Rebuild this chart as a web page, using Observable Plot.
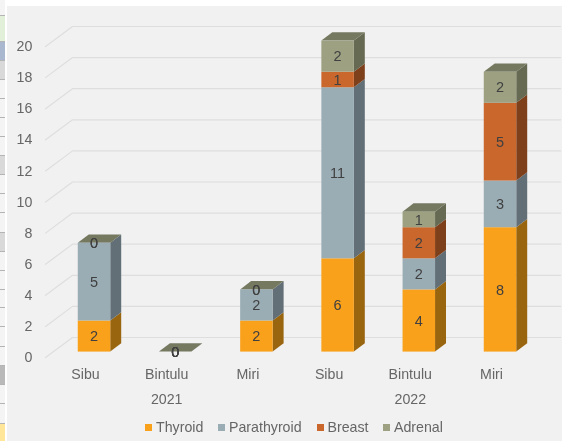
<!DOCTYPE html>
<html>
<head>
<meta charset="utf-8">
<script src="https://cdn.jsdelivr.net/npm/d3@7"></script>
<script src="https://cdn.jsdelivr.net/npm/@observablehq/plot@0.6"></script>
<style>
  html, body { margin: 0; padding: 0; background: #fff; overflow: hidden; }
  body { width: 562px; height: 441px; position: relative; font-family: "Liberation Sans", Arial, sans-serif; }
  #strip { position: absolute; left: 0; top: 0; width: 5px; height: 441px; background: #f4f4f4; overflow: hidden; }
  #strip div { position: absolute; left: 0; width: 5px; box-sizing: border-box; border-top: 1px solid #b4b4b4; }
  #panel { position: absolute; left: 7px; top: 6px; width: 555px; height: 435px; background: #f1f1f1; }
  #chart { position: absolute; left: 0; top: 0; filter: blur(0.35px); }
  #chart svg { background: transparent; overflow: visible; }
  #legend { position: absolute; left: 0; top: 418px; width: 562px; height: 18px; font-size: 14.2px; line-height: 18px; color: #666; filter: blur(0.35px); }
  #legend span { position: absolute; top: 0; white-space: nowrap; }
  #legend i { position: absolute; top: 5.5px; width: 7px; height: 7px; }
</style>
</head>
<body>
<div id="strip"></div>
<div id="panel"></div>
<div id="chart"></div>
<div id="legend"></div>
<script>
const cities = ["Sibu", "Bintulu", "Miri", "Sibu", "Bintulu", "Miri"];
const years = ["2021", "2022"];
const seriesNames = ["Thyroid", "Parathyroid", "Breast", "Adrenal"];
const thyroid = [2, 0, 2, 6, 4, 8];
const parathyroid = [5, 0, 2, 11, 2, 3];
const breast = [0, 0, 0, 1, 2, 5];
const adrenal = [0, 0, 0, 2, 1, 2];
const yearCentres = [1, 4];
const yTicks = [0, 2, 4, 6, 8, 10, 12, 14, 16, 18, 20];
const frontColors = ["#f9a11b", "#9aadb5", "#c9672d", "#9da182"];
const sideColors = ["#99650f", "#626f76", "#7e3f1b", "#676a52"];
const topColor = "#757960";
const gridColor = "#dedede";
const textColor = "#666666";
const labelColor = "#404040";

// Spreadsheet cells peeking out at the left of the screenshot
const stripCells = [[15,26,"#e2efd9"],[41,19,"#a9b8cf"],[60,19,"#d9d9d9"],[79,19,"#f4f4f4"],[98,19,"#f4f4f4"],[117,19,"#f4f4f4"],[136,19,"#f4f4f4"],[155,19,"#d9d9d9"],[174,19,"#f4f4f4"],[193,19,"#f4f4f4"],[212,20,"#f4f4f4"],[232,19,"#d9d9d9"],[251,19,"#f4f4f4"],[270,19,"#f4f4f4"],[289,18,"#f4f4f4"],[307,19,"#f4f4f4"],[326,20,"#f4f4f4"],[346,19,"#f4f4f4"],[365,19,"#b9b9b9"],[384,19,"#f4f4f4"],[403,20,"#f4f4f4"],[423,18,"#ffe699"]];
const strip = document.getElementById("strip");
for (const [t, h, c] of stripCells) {
  const d = document.createElement("div");
  d.style.top = t + "px"; d.style.height = h + "px"; d.style.background = c;
  strip.appendChild(d);
}

const seriesValues = [thyroid, parathyroid, breast, adrenal];
const barHalf = 0.2, depthX = 0.135, depthY = 0.534;

// stacked segments
const segments = [];
cities.forEach((city, i) => {
  let base = 0;
  seriesValues.forEach((vals, s) => {
    segments.push({i, s, value: vals[i], y0: base, y1: base + vals[i]});
    base += vals[i];
  });
});

// side faces: two-point areas
const sideMarks = seriesNames.map((_, s) => {
  const pts = segments.filter(d => d.s === s && d.value > 0).flatMap(d => [
    {key: d.i, x: d.i + barHalf, y1: d.y0, y2: d.y1},
    {key: d.i, x: d.i + barHalf + depthX, y1: d.y0 + depthY, y2: d.y1 + depthY}
  ]);
  return Plot.areaY(pts, {x: "x", y1: "y1", y2: "y2", z: "key", fill: sideColors[s], curve: "linear"});
});

// top faces
const totals = cities.map((_, i) => d3.sum(seriesValues, v => v[i]));
const topPts = totals.flatMap((t, i) => [
  {key: i, x: i - barHalf, y1: t, y2: t},
  {key: i, x: i - barHalf + depthX, y1: t, y2: t + depthY},
  {key: i, x: i + barHalf, y1: t, y2: t + depthY},
  {key: i, x: i + barHalf + depthX, y1: t + depthY, y2: t + depthY}
]);

// floor + back wall gridlines
const floorFront = -0.35, wallBack = 0.94;
const gridLeft = -0.603, gridMid = -0.271, gridRight = 5.74;
const gridPts = yTicks.flatMap(v => [
  {v, x: gridLeft, y: v + floorFront},
  {v, x: gridMid, y: v + wallBack},
  {v, x: gridRight, y: v + wallBack}
]);

const plot = Plot.plot({
  width: 562,
  height: 415,
  marginLeft: 53.4,
  marginRight: 21.4,
  marginTop: 40.6,
  marginBottom: 63.4,
  style: {background: "transparent", fontFamily: "'Liberation Sans', Arial, sans-serif", overflow: "visible"},
  x: {domain: [-0.5, 5.5]},
  y: {domain: [0, 20]},
  marks: [
    Plot.line(gridPts, {x: "x", y: "y", z: "v", stroke: gridColor, strokeWidth: 1.2, curve: "linear", clip: false}),
    Plot.axisY({ticks: yTicks, tickSize: 0, tickPadding: 21.5, label: null, dy: 5.5, fontSize: 14.2, color: textColor}),
    Plot.axisX({ticks: [0, 1, 2, 3, 4, 5], tickFormat: i => cities[i], tickSize: 0, tickPadding: 17, label: null, dx: -9, fontSize: 14.2, color: textColor}),
    Plot.text(years, {x: (d, i) => yearCentres[i], text: d => d, frameAnchor: "bottom", lineAnchor: "middle", dy: 47.4, dx: -9, fontSize: 14.2, fill: textColor}),
    ...sideMarks,
    Plot.areaY(topPts, {x: "x", y1: "y1", y2: "y2", z: "key", fill: topColor, curve: "linear"}),
    Plot.rect(segments.filter(d => d.value > 0), {
      x1: d => d.i - barHalf, x2: d => d.i + barHalf, y1: "y0", y2: "y1",
      fill: d => frontColors[d.s]
    }),
    Plot.text(segments, {
      x: d => d.i, y: d => (d.y0 + d.y1) / 2, text: d => String(d.value),
      fontSize: 14.5, fill: labelColor, dx: -0.5
    })
  ]
});
document.getElementById("chart").appendChild(plot);

// legend
const legendX = [145, 218, 316.5, 383];
const legend = document.getElementById("legend");
seriesNames.forEach((name, s) => {
  const sw = document.createElement("i");
  sw.style.left = legendX[s] + "px"; sw.style.background = frontColors[s];
  const t = document.createElement("span");
  t.style.left = (legendX[s] + 11) + "px"; t.textContent = name;
  legend.append(sw, t);
});
</script>
</body>
</html>
